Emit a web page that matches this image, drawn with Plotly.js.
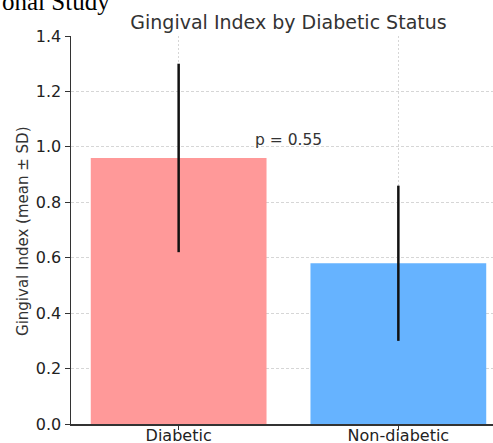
<!DOCTYPE html>
<html>
<head>
<meta charset="utf-8">
<script src="https://cdn.plot.ly/plotly-3.0.1.min.js"></script>
<style>
  html, body { margin: 0; padding: 0; overflow: hidden; background: #fff; }
  #wrap { width: 493px; height: 443px; overflow: hidden; }
</style>
</head>
<body>
<div id="wrap"><div id="chart"></div></div>
<script>
const categories = ['Diabetic', 'Non-diabetic'];
const means = [0.96, 0.58];
const sds = [0.34, 0.28];
const barColors = ['#ff9999', '#66b3ff'];
const yTicks = [0, 0.2, 0.4, 0.6, 0.8, 1.0, 1.2, 1.4];
const pText = 'p = 0.55';
const titleText = 'Gingival Index by Diabetic Status';
const yTitleText = 'Gingival Index (mean ± SD)';
const headerText = 'onal Study';

const FONT = 'DejaVu Sans, Verdana, sans-serif';

const trace = {
  type: 'bar',
  x: categories,
  y: means,
  marker: { color: barColors, line: { width: 0 } },
  error_y: { type: 'data', array: sds, visible: true, color: '#111111', thickness: 2.5, width: 0 },
  hoverinfo: 'none'
};

const layout = {
  width: 507,
  height: 443,
  margin: { l: 71, r: 1, t: 36, b: 19 },
  paper_bgcolor: '#ffffff',
  plot_bgcolor: '#ffffff',
  showlegend: false,
  bargap: 0.2,
  title: {
    text: titleText,
    font: { family: FONT, size: 19, color: '#333333' },
    xref: 'paper', x: 0.5, xanchor: 'center',
    yref: 'container', y: 0.9488, yanchor: 'middle'
  },
  xaxis: {
    type: 'category',
    range: [-0.49, 1.49],
    showline: true, linecolor: '#333333', linewidth: 1.5,
    ticks: 'outside', ticklen: 4, tickwidth: 1, tickcolor: '#333333',
    ticklabelstandoff: -8,
    tickfont: { family: FONT, size: 16, color: '#222222' },
    showgrid: true, gridcolor: '#d6d6d6', griddash: '2px,2px', gridwidth: 1,
    zeroline: false, fixedrange: true
  },
  yaxis: {
    range: [0, 1.4],
    tickvals: yTicks,
    tickformat: '.1f',
    showline: true, linecolor: '#333333', linewidth: 1.5,
    ticks: 'outside', ticklen: 5, tickwidth: 1, tickcolor: '#333333',
    tickfont: { family: FONT, size: 16, color: '#222222' },
    showgrid: true, gridcolor: '#d6d6d6', griddash: '3px,2px', gridwidth: 1,
    zeroline: false, fixedrange: true
  },
  annotations: [
    {
      text: pText, xref: 'x', yref: 'y', x: 0.5, y: 1.025,
      xanchor: 'center', yanchor: 'middle', showarrow: false,
      font: { family: FONT, size: 15.5, color: '#333333' }
    },
    {
      text: yTitleText, xref: 'paper', yref: 'paper', x: -0.1103, y: 0.495,
      xanchor: 'center', yanchor: 'middle', textangle: -90, showarrow: false,
      font: { family: FONT, size: 15, color: '#333333' }
    },
    {
      text: headerText, xref: 'paper', yref: 'paper', x: -0.1632, y: 1.088,
      xanchor: 'left', yanchor: 'middle', showarrow: false,
      font: { family: 'Liberation Serif, Times New Roman, serif', size: 25, color: '#000000' }
    }
  ]
};

Plotly.newPlot('chart', [trace], layout, { displayModeBar: false, staticPlot: true });
</script>
</body>
</html>
